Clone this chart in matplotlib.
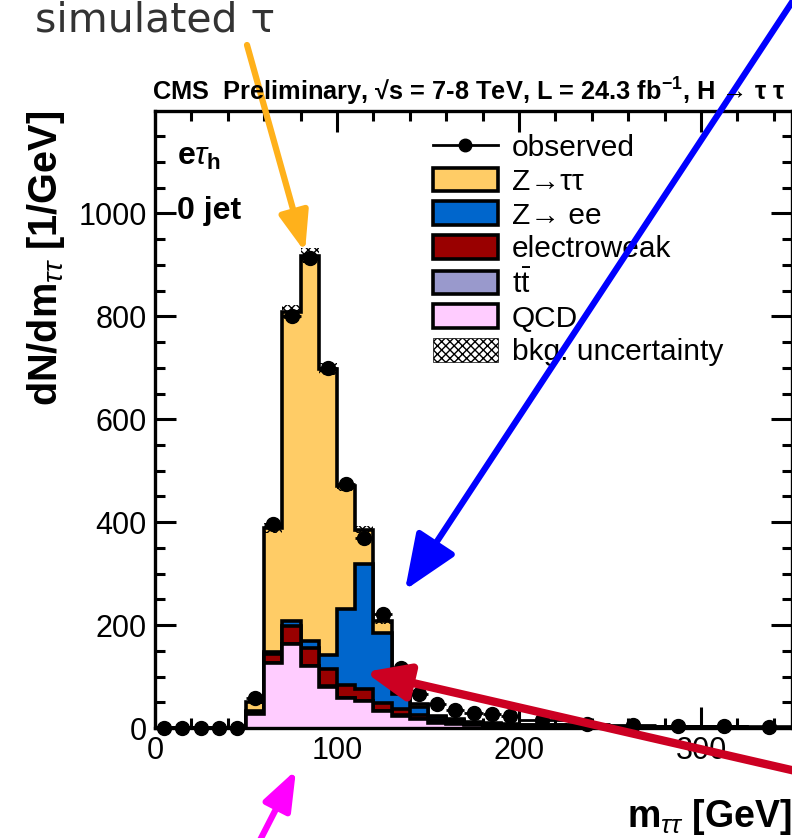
import numpy as np
import matplotlib.pyplot as plt
from matplotlib.patches import Patch
from matplotlib.lines import Line2D
from matplotlib.ticker import MultipleLocator

plt.rcParams['font.family'] = ['Liberation Sans', 'DejaVu Sans']
plt.rcParams['mathtext.fontset'] = 'custom'
plt.rcParams['mathtext.rm'] = 'Liberation Sans'
plt.rcParams['mathtext.it'] = 'Liberation Sans:italic'
plt.rcParams['mathtext.bf'] = 'Liberation Sans:bold'

# bin edges in m_tautau [GeV]
edges = [0, 10, 20, 30, 40, 50, 60, 70, 80, 90, 100, 110, 120, 130, 140,
         150, 160, 170, 180, 190, 200, 225, 250, 275, 300, 325, 350]

# dN/dm per component (stacked bottom -> top)
qcd = [0, 0, 0, 0, 0, 27, 126, 163, 120, 80, 58, 52, 33, 24, 17,
       10, 8, 5, 4, 3, 2, 1, 0.8, 0.5, 0.4, 0.3]
ttbar = [0, 0, 0, 0, 0, 0.5, 1, 1, 1, 1, 1, 1, 1, 1, 1,
         1, 0.8, 0.6, 0.5, 0.5, 0.4, 0.3, 0.2, 0.2, 0.1, 0.1]
ewk = [0, 0, 0, 0, 0, 4, 17, 34, 34, 34, 25, 22, 14, 12, 8,
       5, 4, 3, 2, 2, 1.5, 1, 0.8, 0.6, 0.5, 0.4]
zee = [0, 0, 0, 0, 0, 1, 4, 9, 15, 27, 148, 243, 136, 30, 14,
       5, 3, 2, 2, 1, 1, 0.5, 0.3, 0.2, 0.2, 0.1]
ztt = [0, 0, 0, 0, 0, 18, 240, 601, 748, 556, 238, 67, 23, 10, 6,
       3, 2, 1, 1, 1, 0.5, 0.3, 0.2, 0.1, 0.1, 0.1]
bkg_unc = [0, 0, 0, 0, 0, 3, 10, 14, 15, 12, 9, 7, 5, 3, 2,
           1, 1, 0.5, 0.5, 0.5, 0.3, 0.2, 0.1, 0.1, 0.1, 0.1]

observed = [0.5, 0.5, 0.5, 0.5, 0.5, 58, 396, 800, 913, 699, 474, 369, 222, 116, 66,
            47, 35, 29, 27, 23, 15, 7, 5, 4, 3, 2]
obs_err = [1, 1, 1, 1, 1, 2.4, 6.3, 9, 9.6, 8.4, 6.9, 6.1, 4.7, 3.4, 2.6,
           2.2, 1.9, 1.7, 1.6, 1.5, 0.8, 0.5, 0.5, 0.4, 0.4, 0.3]

components = [
    ('QCD', qcd, '#FFCCFF'),
    (r't$\bar{\mathrm{t}}$', ttbar, '#9999CC'),
    ('electroweak', ewk, '#990000'),
    ('Z\u2192 ee', zee, '#0066CC'),
    ('Z\u2192\u03c4\u03c4', ztt, '#FFCC66'),
]

edges = np.array(edges, dtype=float)
centers = 0.5 * (edges[1:] + edges[:-1])
widths = edges[1:] - edges[:-1]

fig = plt.figure(figsize=(7.92, 8.38), dpi=100)
ax = fig.add_axes([155 / 792, 1 - 728 / 838, 637 / 792, (728 - 111) / 838])

# cumulative stack, draw the tallest first (ROOT style)
cum = []
run = np.zeros(len(centers))
for name, vals, col in components:
    run = run + np.array(vals)
    cum.append(run.copy())
for (name, vals, col), top in reversed(list(zip(components, cum))):
    ax.stairs(top, edges, baseline=0, fill=True, facecolor=col,
              edgecolor='black', linewidth=2.6, zorder=2)

total = cum[-1]
unc = np.array(bkg_unc)
ax.bar(centers, 2 * unc, bottom=total - unc, width=widths, fill=False,
       hatch='xxxx', linewidth=0, edgecolor='black', zorder=3)

ax.errorbar(centers, observed, xerr=widths / 2, yerr=obs_err, fmt='o',
            color='black', ms=10, lw=2, capsize=0, zorder=4, clip_on=False)

ax.set_xlim(0, 350)
ax.set_ylim(0, 1199)
ax.xaxis.set_major_locator(MultipleLocator(100))
ax.xaxis.set_minor_locator(MultipleLocator(20))
ax.yaxis.set_major_locator(MultipleLocator(200))
ax.yaxis.set_minor_locator(MultipleLocator(50))
ax.tick_params(which='both', direction='in', top=True, right=True, width=2.2,
               labelsize=22)
ax.tick_params(which='major', length=15, pad=6)
ax.tick_params(which='minor', length=7.5)
for sp in ax.spines.values():
    sp.set_linewidth(2.4)

ax.set_ylabel(r'dN/dm$_{\tau\tau}$ [1/GeV]', fontsize=28.5, fontweight='bold',
              loc='top', labelpad=8)
ax.set_xlabel(r'm$_{\tau\tau}$ [GeV]', fontsize=27, fontweight='bold',
              loc='right', labelpad=22)

ax.text(0.035, 0.925, r'e$\tau_{\mathbf{h}}$', transform=ax.transAxes,
        fontsize=23, fontweight='bold', va='center')
ax.text(0.035, 0.838, '0 jet', transform=ax.transAxes,
        fontsize=23, fontweight='bold', va='center')

fig.text(152 / 792, 1 - 92 / 838,
         'CMS  Preliminary, \u221as = 7-8 TeV, L = 24.3 fb$^{\\mathbf{-1}}$, H \u2192 \u03c4 \u03c4',
         fontsize=18.3, fontweight='bold', va='center', ha='left')

handles = [Line2D([0], [0], color='black', marker='o', ms=9, lw=2)]
labels = ['observed']
for name, vals, col in reversed(components):
    handles.append(Patch(facecolor=col, edgecolor='black', linewidth=2.6))
    labels.append(name)
handles.append(Patch(facecolor='white', edgecolor='black', hatch='xxxx', linewidth=0.5))
labels.append('bkg. uncertainty')
ax.legend(handles, labels, loc='upper left', bbox_to_anchor=(0.4364, 0.963),
          frameon=False, fontsize=21.5, handlelength=2.17, handleheight=0.84,
          handletextpad=0.47, labelspacing=0.19, borderpad=0, borderaxespad=0)

# annotation overlay
fig.text(35 / 792, 1 - 20 / 838, 'simulated \u03c4', fontsize=29.5, color='#333333',
         va='center', ha='left', family='DejaVu Sans')


def arrow(tail, tip, col, lw, hl, hw):
    ax.annotate('', xy=(tip[0], 838 - tip[1]), xytext=(tail[0], 838 - tail[1]),
                xycoords='figure pixels', textcoords='figure pixels',
                annotation_clip=False,
                arrowprops=dict(arrowstyle='-|>,head_length=%g,head_width=%g' % (hl, hw),
                                lw=lw, color=col, shrinkA=0, shrinkB=0),
                zorder=10)


arrow((247, 45), (305, 252), '#FFB11B', 4.5, 2.4, 0.9)
arrow((800, -10), (405, 590), '#0000FF', 4.5, 3.4, 1.4)
arrow((800, 772), (365, 672), '#CC0022', 6, 2.6, 1.1)
arrow((255, 850), (296, 770), '#FF00FF', 4.5, 2.4, 0.9)

fig.savefig('out.png', dpi=100)
